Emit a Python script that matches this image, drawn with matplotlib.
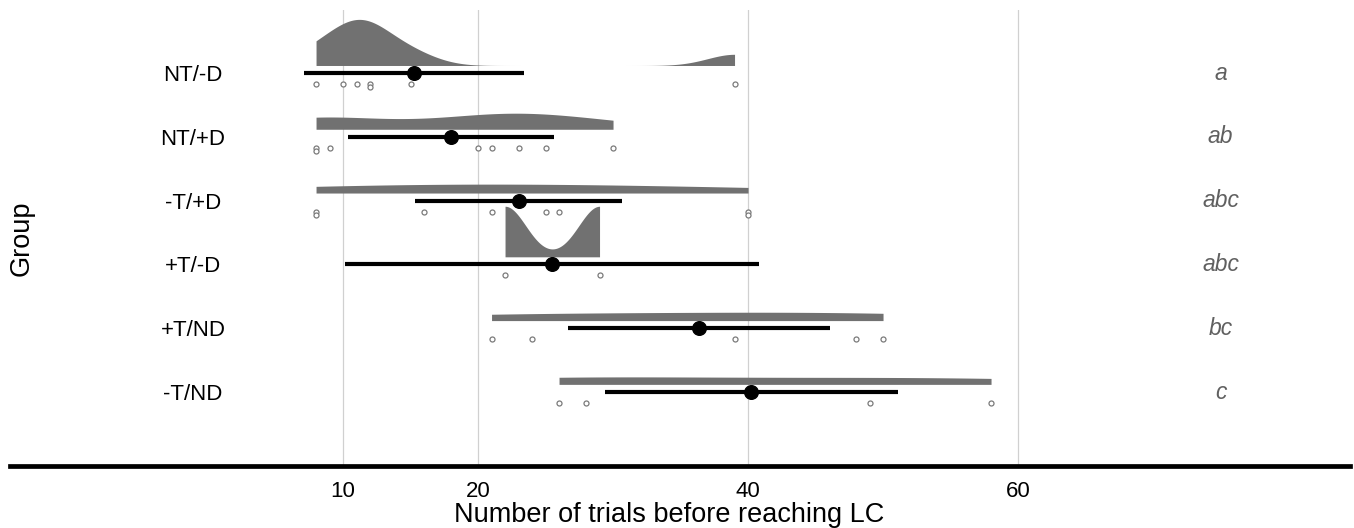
import numpy as np
import matplotlib
matplotlib.use('Agg')
import matplotlib.pyplot as plt

plt.rcParams['font.family'] = ['Liberation Sans', 'DejaVu Sans']

# ---- data ----
groups = ['NT/-D', 'NT/+D', '-T/+D', '+T/-D', '+T/ND', '-T/ND']
letters = ['a', 'ab', 'abc', 'abc', 'bc', 'c']
trials_nt_minus_d = [8, 10, 11, 12, 12, 15, 39]
trials_nt_plus_d = [8, 8, 9, 20, 21, 23, 25, 30]
trials_mt_plus_d = [8, 8, 16, 21, 25, 26, 40, 40]
trials_pt_minus_d = [22, 29]
trials_pt_nd = [21, 24, 39, 48, 50]
trials_mt_nd = [26, 28, 49, 58]
interval_low = [7.1, 10.35, 15.33, 10.15, 26.7, 29.4]
interval_high = [23.4, 25.63, 30.64, 40.84, 46.1, 51.1]
kde_bandwidth = [2.0, 5.0, 12.0, 1.55, 12.0, 12.0]
xtick_values = [10, 20, 40, 60]

group_data = [trials_nt_minus_d, trials_nt_plus_d, trials_mt_plus_d,
              trials_pt_minus_d, trials_pt_nd, trials_mt_nd]

# ---- style / layout ----
W, H = 1354, 528
DENS_SCALE = 6.16
DENS_OFFSET = 0.12
PT_OFFSET = 0.17
DUP_OFFSET = 0.055
LETTER_X = 75
FS = 16
FS_TITLE = 19.5

fig = plt.figure(figsize=(W / 100, H / 100), dpi=100)
ax = fig.add_axes([10 / W, 62 / H, 1340 / W, 456 / H])
ax.set_xlim(-14.67, 84.59)
ax.set_ylim(6.16, -0.99)

for i, vals in enumerate(group_data):
    v = np.asarray(vals, float)
    bw = kde_bandwidth[i]
    grid = np.linspace(v.min(), v.max(), 500)
    dens = np.exp(-0.5 * ((grid[:, None] - v[None, :]) / bw) ** 2).sum(1) / (len(v) * bw * np.sqrt(2 * np.pi))
    base = i - DENS_OFFSET
    ax.fill_between(grid, base, base - dens * DENS_SCALE, color='#717171', lw=0, zorder=2)

    ax.plot([interval_low[i], interval_high[i]], [i, i], color='black', lw=3,
            solid_capstyle='butt', zorder=3)
    ax.plot([np.mean(v)], [i], 'o', ms=9.8, color='black', zorder=4)

    seen = {}
    ys = []
    for x in vals:
        k = seen.get(x, 0)
        seen[x] = k + 1
        ys.append(i + PT_OFFSET + k * DUP_OFFSET)
    ax.plot(vals, ys, 'o', ms=3.6, mfc='white', mec='#7a7a7a', mew=0.9, ls='none', zorder=3)

    ax.text(LETTER_X, i, letters[i], ha='center', va='center', style='italic',
            color='#606060', fontsize=16.5)

ax.set_xticks(xtick_values)
ax.set_xticklabels([str(t) for t in xtick_values], fontsize=FS)
ax.grid(axis='x', color='#d0d0d0', lw=0.9)
ax.set_axisbelow(True)

ax.set_yticks(range(len(groups)))
ax.set_yticklabels(groups, fontsize=FS)
ax.tick_params(axis='y', length=0, pad=-183 * 0.72)
for lbl in ax.get_yticklabels():
    lbl.set_ha('center')
ax.tick_params(axis='x', length=0, pad=11)

for s in ['left', 'right', 'top']:
    ax.spines[s].set_visible(False)
ax.spines['bottom'].set_linewidth(3.4)
ax.spines['bottom'].set_color('black')

ax.set_xlabel('Number of trials before reaching LC', fontsize=FS_TITLE)
ax.xaxis.label.set_va('center')
ax.xaxis.set_label_coords((669 - 10) / 1340, (466 - 515) / 456)

ax.set_ylabel('Group', fontsize=FS_TITLE)
ax.yaxis.label.set_va('center')
ax.yaxis.label.set_rotation_mode('default')
ax.yaxis.set_label_coords((22 - 10) / 1340, 0.5)

fig.savefig('out.png', dpi=100)
